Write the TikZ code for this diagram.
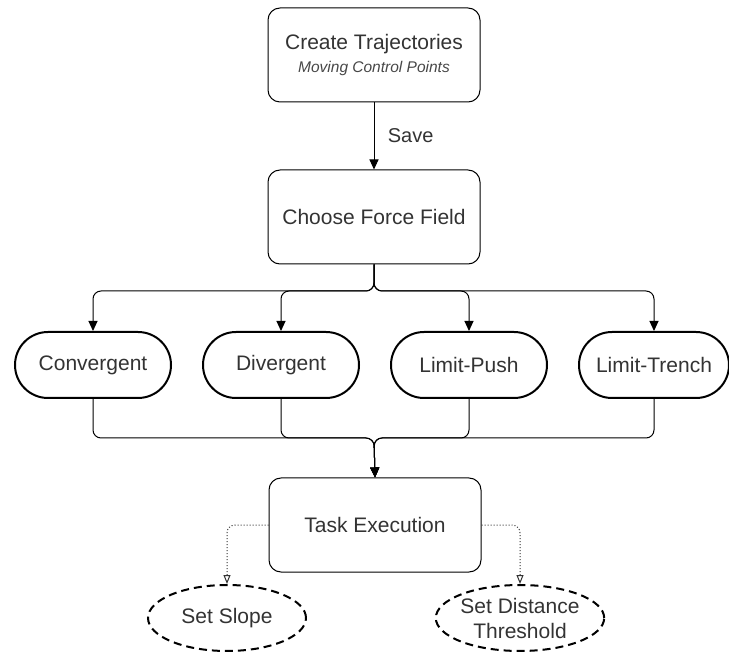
\documentclass[tikz,border=0pt]{standalone}
\usepackage{fontspec}
\setmainfont{Liberation Sans}
\usetikzlibrary{arrows.meta,shapes.geometric}
\definecolor{ink}{HTML}{333333}
\tikzset{
  box/.style={draw=black, line width=1pt, rounded corners=12pt, minimum width=212pt,
    minimum height=94pt, align=center, text=ink, font=\fontsize{21}{25}\selectfont},
  term/.style={draw=black, line width=2pt, rounded corners=33pt, minimum width=156pt,
    minimum height=66pt, text=ink, font=\fontsize{21}{25}\selectfont},
  opt/.style={draw=black, ellipse, line width=2pt, dash pattern=on 8pt off 5pt,
    minimum width=158pt, minimum height=66pt, inner sep=0pt, align=center, text=ink,
    font=\fontsize{21}{25}\selectfont},
  link/.style={draw=black, line width=1pt, rounded corners=8pt,
    -{Triangle[length=10pt,width=9pt]}},
  optlink/.style={draw=black!80, line width=1pt, dotted, rounded corners=8pt,
    -{Triangle[open,length=9pt,width=7pt]}},
}
\begin{document}
\begin{tikzpicture}[x=1pt,y=-1pt]
  \useasboundingbox (0,0) rectangle (729,652);

  % main flow
  \node[box] (create) at (374,55)
    {Create Trajectories\\[-2pt]{\fontsize{15.5}{18}\selectfont\itshape\color{ink!90} Moving Control Points}};
  \node[box] (field) at (374,217) {Choose Force Field};
  \node[box] (task) at (375,525) {Task Execution};

  % force field variants
  \node[term] (conv) at (93,365) {Convergent};
  \node[term] (div) at (281,365) {Divergent};
  \node[term] (push) at (469,365) {Limit-Push};
  \node[term] (trench) at (654,365) [minimum width=150pt] {Limit-Trench};

  % optional settings
  \node[opt] (slope) at (227,618) {Set Slope};
  \node[opt] (dist) at (520,618) [minimum width=155pt] {Set Distance\\Threshold};

  \coordinate (split) at (374,291);
  \coordinate (merge) at (374,438);

  \draw[link] (create) -- node[right=10pt, text=ink, font=\fontsize{20}{24}\selectfont] {Save} (field);

  \foreach \n in {conv,div,push,trench} {
    \draw[link] (field.south) -- (split) -| (\n.north);
    \draw[link] (\n.south) |- (merge) -- (task.north);
  }

  \draw[optlink] (task.west) -| (slope.north);
  \draw[optlink] (task.east) -| (dist.north);
\end{tikzpicture}
\end{document}
